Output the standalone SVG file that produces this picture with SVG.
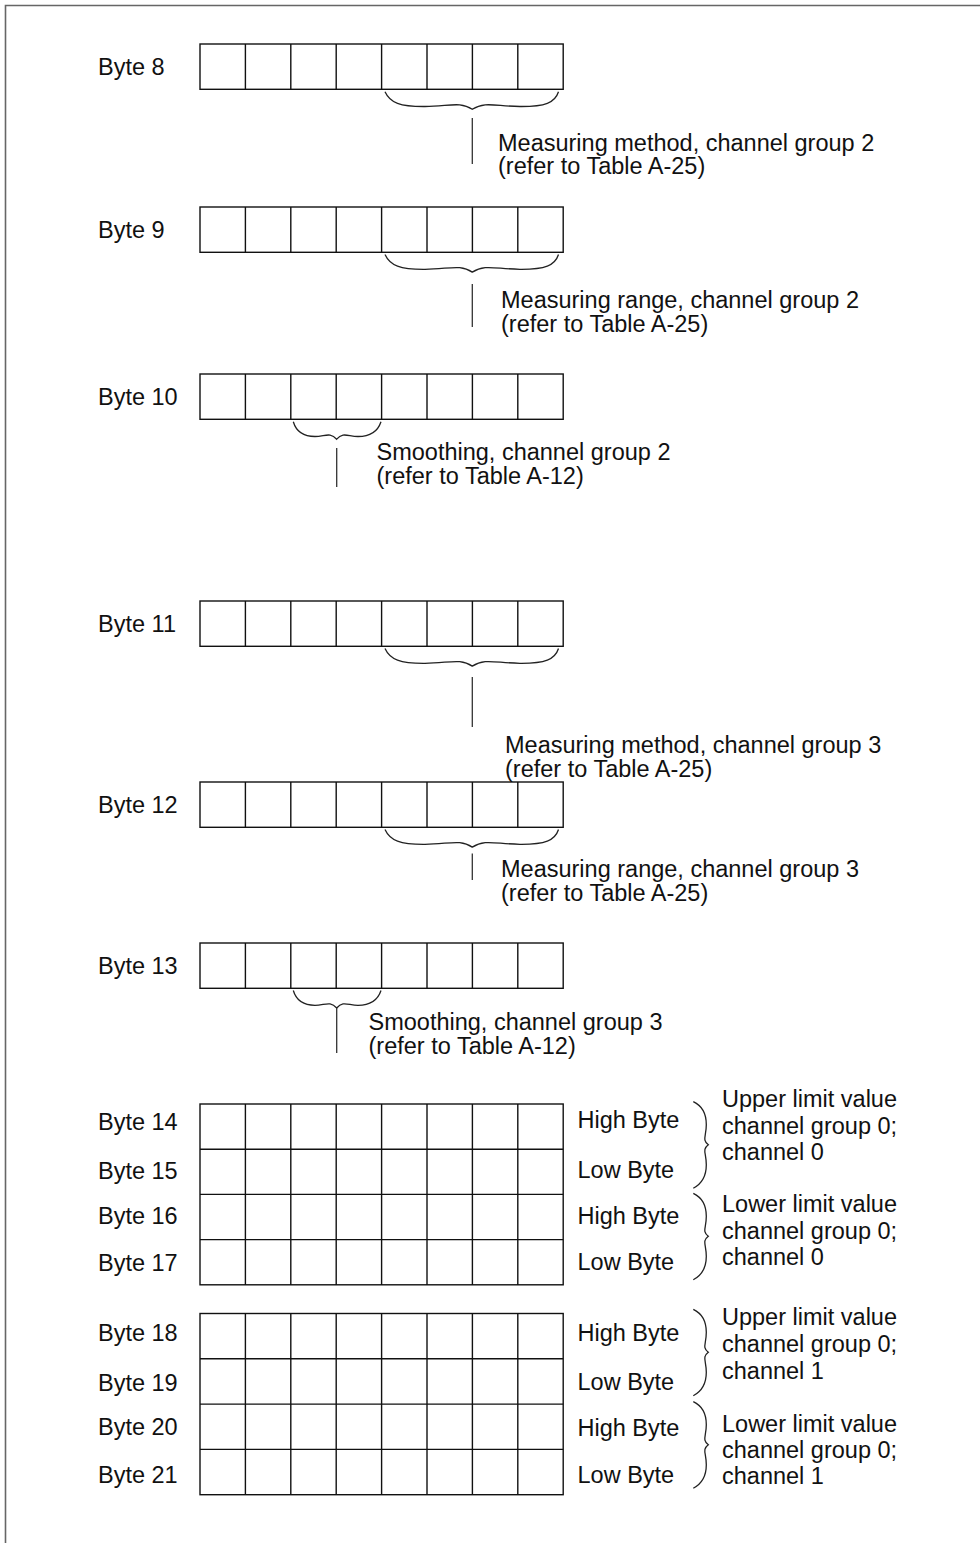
<svg xmlns="http://www.w3.org/2000/svg" xmlns:xlink="http://www.w3.org/1999/xlink" width="980" height="1543" viewBox="0 0 980 1543">
<style>
text{font-family:"Liberation Sans",Arial,sans-serif;font-size:23.5px;fill:#111}
.cell{fill:#fff;stroke:#111;stroke-width:1.4}
.div{fill:none;stroke:#111;stroke-width:1.4}
.brace{fill:none;stroke:#222;stroke-width:1.3}
.lead{fill:none;stroke:#333;stroke-width:1.3}
.frame{fill:none;stroke:#666;stroke-width:1.6}
</style>
<defs>
<path id="cols" d="M245.4,0v45.3M290.8,0v45.3M336.2,0v45.3M381.6,0v45.3M427,0v45.3M472.4,0v45.3M517.8,0v45.3"/>
<path id="braceR" d="M385,0 C390,11 400,15 425,14.8 C450,14.5 460,9.5 472.3,17.6 C485,9.5 495,14.5 520,14.8 C545,15 555,11 558.5,0"/>
<path id="braceL" d="M293.3,0 C296,9 303,14.8 315,14.8 C325,14.8 330,10 336.7,17.5 C343,10 348,14.8 358,14.8 C370,14.8 378,9 381,0"/>
<path id="braceV" d="M0,0 C8.5,4 13,11 13,23 C13,35 8.5,38 15,43 C8.5,48 13,51 13,63 C13,75 8.5,82 0,86.5"/>
</defs>
<path class="frame" d="M5.5,1543 V5.5 H980"/>

<g id="byte8">
<text x="98" y="75">Byte 8</text>
<rect class="cell" x="200" y="44" width="363.2" height="45.3"/>
<use href="#cols" class="div" transform="translate(0,44)"/>
</g>
<g id="byte9">
<text x="98" y="238">Byte 9</text>
<rect class="cell" x="200" y="207" width="363.2" height="45.3"/>
<use href="#cols" class="div" transform="translate(0,207)"/>
</g>
<g id="byte10">
<text x="98" y="405">Byte 10</text>
<rect class="cell" x="200" y="374" width="363.2" height="45.3"/>
<use href="#cols" class="div" transform="translate(0,374)"/>
</g>
<g id="byte11">
<text x="98" y="632">Byte 11</text>
<rect class="cell" x="200" y="601" width="363.2" height="45.3"/>
<use href="#cols" class="div" transform="translate(0,601)"/>
</g>
<g id="byte12">
<text x="98" y="812.5">Byte 12</text>
<rect class="cell" x="200" y="782" width="363.2" height="45.3"/>
<use href="#cols" class="div" transform="translate(0,782)"/>
</g>
<g id="byte13">
<text x="98" y="974">Byte 13</text>
<rect class="cell" x="200" y="943" width="363.2" height="45.3"/>
<use href="#cols" class="div" transform="translate(0,943)"/>
</g>

<g id="block14-17">
<rect class="cell" x="200" y="1104" width="363.2" height="180.8"/>
<path class="div" d="M200,1149.2H563.2M200,1194.4H563.2M200,1239.6H563.2"/>
<use href="#cols" class="div" transform="translate(0,1104)"/>
<use href="#cols" class="div" transform="translate(0,1149.2)"/>
<use href="#cols" class="div" transform="translate(0,1194.4)"/>
<use href="#cols" class="div" transform="translate(0,1239.6)"/>
<text x="98" y="1130">Byte 14</text>
<text x="98" y="1179">Byte 15</text>
<text x="98" y="1223.5">Byte 16</text>
<text x="98" y="1270.5">Byte 17</text>
<text x="577.5" y="1128">High Byte</text>
<text x="577.5" y="1177.5">Low Byte</text>
<text x="577.5" y="1223.5">High Byte</text>
<text x="577.5" y="1270">Low Byte</text>
</g>
<g id="block18-21">
<rect class="cell" x="200" y="1313.5" width="363.2" height="181.2"/>
<path class="div" d="M200,1358.8H563.2M200,1404.1H563.2M200,1449.4H563.2"/>
<use href="#cols" class="div" transform="translate(0,1313.5)"/>
<use href="#cols" class="div" transform="translate(0,1358.8)"/>
<use href="#cols" class="div" transform="translate(0,1404.1)"/>
<use href="#cols" class="div" transform="translate(0,1449.4)"/>
<text x="98" y="1341">Byte 18</text>
<text x="98" y="1390.5">Byte 19</text>
<text x="98" y="1435">Byte 20</text>
<text x="98" y="1482.5">Byte 21</text>
<text x="577.5" y="1340.5">High Byte</text>
<text x="577.5" y="1390">Low Byte</text>
<text x="577.5" y="1436">High Byte</text>
<text x="577.5" y="1482.5">Low Byte</text>
</g>

<g id="note-byte8">
<text x="498" y="150.5">Measuring method, channel group 2</text>
<text x="498" y="174">(refer to Table A-25)</text>
</g>
<g id="note-byte9">
<text x="501" y="308">Measuring range, channel group 2</text>
<text x="501" y="331.5">(refer to Table A-25)</text>
</g>
<g id="note-byte10">
<text x="376.5" y="460">Smoothing, channel group 2</text>
<text x="376.5" y="483.5">(refer to Table A-12)</text>
</g>
<g id="note-byte11">
<text x="505" y="753">Measuring method, channel group 3</text>
<text x="505" y="776.5">(refer to Table A-25)</text>
</g>
<g id="note-byte12">
<text x="501" y="876.5">Measuring range, channel group 3</text>
<text x="501" y="901">(refer to Table A-25)</text>
</g>
<g id="note-byte13">
<text x="368.5" y="1030">Smoothing, channel group 3</text>
<text x="368.5" y="1054">(refer to Table A-12)</text>
</g>
<g id="note-upper0">
<text x="722" y="1107">Upper limit value</text>
<text x="722" y="1133.5">channel group 0;</text>
<text x="722" y="1160">channel 0</text>
</g>
<g id="note-lower0">
<text x="722" y="1212">Lower limit value</text>
<text x="722" y="1238.5">channel group 0;</text>
<text x="722" y="1265">channel 0</text>
</g>
<g id="note-upper1">
<text x="722" y="1325">Upper limit value</text>
<text x="722" y="1352">channel group 0;</text>
<text x="722" y="1379">channel 1</text>
</g>
<g id="note-lower1">
<text x="722" y="1431.5">Lower limit value</text>
<text x="722" y="1457.5">channel group 0;</text>
<text x="722" y="1484">channel 1</text>
</g>

<g id="connectors">
<use href="#braceR" class="brace" transform="translate(0,91.7)"/>
<path class="lead" d="M472.3,118V164"/>
<use href="#braceR" class="brace" transform="translate(0,254.5)"/>
<path class="lead" d="M472.3,284V327"/>
<use href="#braceL" class="brace" transform="translate(0,421.7)"/>
<path class="lead" d="M336.7,448V487"/>
<use href="#braceR" class="brace" transform="translate(0,648.5)"/>
<path class="lead" d="M472.3,677V727"/>
<use href="#braceR" class="brace" transform="translate(0,829.5)"/>
<path class="lead" d="M472.3,853.5V880"/>
<use href="#braceL" class="brace" transform="translate(0,990.5)"/>
<path class="lead" d="M336.7,1008V1053"/>
<use href="#braceV" class="brace" transform="translate(693.3,1101.7)"/>
<use href="#braceV" class="brace" transform="translate(693.3,1193.3)"/>
<use href="#braceV" class="brace" transform="translate(693.3,1309.3)"/>
<use href="#braceV" class="brace" transform="translate(693.3,1401.7)"/>
</g>
</svg>
